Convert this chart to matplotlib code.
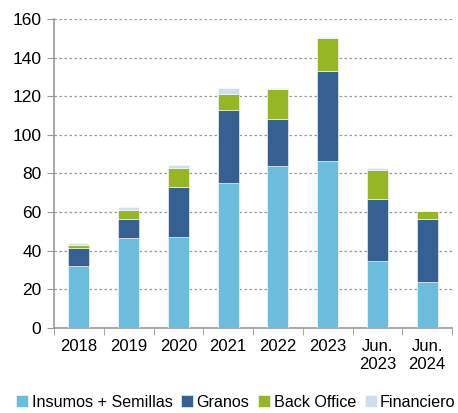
import numpy as np
import matplotlib.pyplot as plt
from matplotlib.ticker import FixedLocator

plt.rcParams['font.family'] = ['Liberation Sans', 'DejaVu Sans']

categories = ['2018', '2019', '2020', '2021', '2022', '2023', 'Jun.\n2023', 'Jun.\n2024']
insumos = [32.0, 46.6, 47.0, 75.1, 84.1, 86.4, 34.7, 23.8]
granos = [9.3, 10.0, 26.2, 37.7, 24.3, 46.9, 32.0, 32.8]
back_office = [1.7, 4.7, 9.9, 8.6, 15.1, 16.8, 15.2, 3.9]
financiero = [0.9, 1.2, 1.4, 3.0, 0.9, 0.7, 1.0, 0.3]

series = [
  ('Insumos + Semillas', insumos, '#6cbcde'),
  ('Granos', granos, '#366092'),
  ('Back Office', back_office, '#97b623'),
  ('Financiero', financiero, '#cfdeed'),
]

fig = plt.figure(figsize=(4.58, 4.13), dpi=100)
ax = fig.add_axes([54/458, 1 - 328/413, (452-54)/458, (328-19)/413])

x = np.arange(len(categories))
bottom = np.zeros(len(categories))
for name, vals, col in series:
  ax.bar(x, vals, 0.42, bottom=bottom, color=col, label=name,
         edgecolor='white', linewidth=0.4, zorder=3)
  bottom += np.array(vals)

ax.set_ylim(0, 160)
ax.set_xlim(-0.5, len(categories) - 0.5)
ax.set_yticks(np.arange(0, 161, 20))
ax.set_xticks(x)
ax.set_xticklabels(categories, fontsize=12, linespacing=1.25)
ax.tick_params(axis='x', which='major', length=0, pad=8)
ax.xaxis.set_minor_locator(FixedLocator(np.arange(-0.5, len(categories), 1)))
ax.tick_params(axis='x', which='minor', length=5, color='#999999')
ax.tick_params(axis='y', labelsize=12.5, length=5, color='#999999', pad=4)

ax.grid(axis='y', linestyle=(0, (2, 2)), color='#999999', linewidth=0.9, zorder=0)
for s in ['top', 'right']:
  ax.spines[s].set_visible(False)
for s in ['left', 'bottom']:
  ax.spines[s].set_color('#999999')
  ax.spines[s].set_linewidth(1.2)

fig.legend(loc='lower center', bbox_to_anchor=(0.515, -0.015), ncol=4, frameon=False,
           fontsize=11.6, handlelength=0.75, handleheight=0.75, handletextpad=0.2,
           columnspacing=0.55, borderaxespad=0.2)

fig.savefig('out.png', dpi=100)
